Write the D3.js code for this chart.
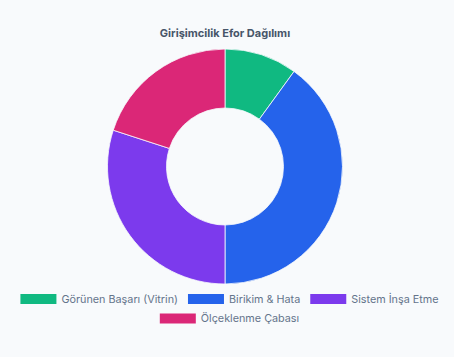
<!DOCTYPE html>
<html><head><meta charset="utf-8">
<script src="https://cdn.jsdelivr.net/npm/d3@7"></script>
<style>
html,body{margin:0;padding:0;background:#f8fafc;}
svg{display:block;}
</style></head>
<body>
<svg id="chart" width="454" height="357"></svg>
<script>
const title = "Girişimcilik Efor Dağılımı";
const categories = ["Görünen Başarı (Vitrin)", "Birikim & Hata", "Sistem İnşa Etme", "Ölçeklenme Çabası"];
const values = [10, 40, 30, 20];
const colors = ["#10b981", "#2563eb", "#7c3aed", "#db2777"];

const W = 454, H = 357;
const svg = d3.select("#chart");
const font = "Inter, 'Noto Sans', sans-serif";

svg.append("text")
  .attr("x", 225).attr("y", 37)
  .attr("text-anchor", "middle")
  .attr("font-family", font).attr("font-size", 11).attr("font-weight", 700)
  .attr("fill", "#475569")
  .text(title);

const cx = 225, cy = 166.5, R = 117.5, r = 58.5;
const pie = d3.pie().sort(null).value(d => d)(values);
const arc = d3.arc().innerRadius(r).outerRadius(R);
const g = svg.append("g").attr("transform", `translate(${cx},${cy})`);
g.selectAll("path").data(pie).join("path")
  .attr("d", arc)
  .attr("fill", (d, i) => colors[i])
  .attr("stroke", "#f8fafc").attr("stroke-width", 0.8);

// legend
const boxW = 36, boxH = 10, gapText = 5, pad = 10, fs = 10.8;
const lg = svg.append("g");
const items = categories.map((c, i) => {
  const t = lg.append("text").attr("font-family", font).attr("font-size", fs)
    .attr("fill", "#64748b").attr("dominant-baseline", "central").text(c);
  const w = t.node().getComputedTextLength();
  return {c, i, t, w: boxW + gapText + w};
});
const maxW = 430;
const rows = [[]];
let cur = 0;
items.forEach(it => {
  const add = (rows[rows.length-1].length ? pad : 0) + it.w;
  if (cur + add > maxW && rows[rows.length-1].length) { rows.push([it]); cur = it.w; }
  else { rows[rows.length-1].push(it); cur += add; }
});
const rowY = [299, 318.5];
rows.forEach((row, ri) => {
  const total = d3.sum(row, d => d.w) + pad * (row.length - 1);
  let x = 229.5 - total / 2;
  row.forEach(it => {
    lg.append("rect").attr("x", x).attr("y", rowY[ri] - boxH/2)
      .attr("width", boxW).attr("height", boxH).attr("fill", colors[it.i]);
    it.t.attr("x", x + boxW + gapText).attr("y", rowY[ri]);
    x += it.w + pad;
  });
});
</script>
</body></html>
